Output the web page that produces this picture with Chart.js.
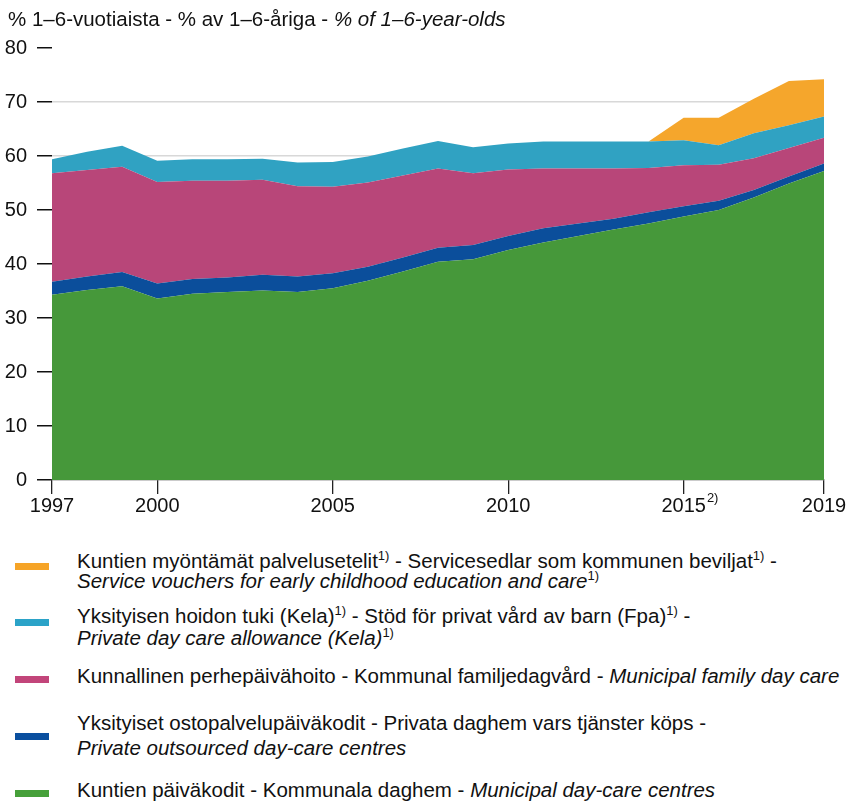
<!DOCTYPE html>
<html>
<head>
<meta charset="utf-8">
<script src="https://cdn.jsdelivr.net/npm/chart.js@4"></script>
<style>
  html, body { margin:0; padding:0; background:#fff; }
  body { width:856px; height:805px; position:relative; overflow:hidden;
         font-family:"Liberation Sans", Arial, Helvetica, sans-serif; color:#111; }
  #wrap { position:absolute; left:0; top:0; width:856px; height:520px; }
  .t { position:absolute; font-size:20.5px; white-space:nowrap; line-height:1; }
  .sw { position:absolute; left:15px; width:34px; height:7px; }
  sup { font-size:13px; vertical-align:0; position:relative; top:-8px; }
  i { font-style:italic; }
</style>
</head>
<body>
<div id="wrap"><canvas id="c" width="856" height="520"></canvas></div>
<div class="t" style="left:8px; top:8.6px;">% 1–6-vuotiaista - % av 1–6-åriga - <i>% of 1–6-year-olds</i></div>

<div class="sw" style="top:563px; background:#f6a427;"></div>
<div class="t" style="left:77px; top:550.6px;">Kuntien myöntämät palvelusetelit<sup>1)</sup> - Servicesedlar som kommunen beviljat<sup>1)</sup> -</div>
<div class="t" style="left:77px; top:570.6px;"><i>Service vouchers for early childhood education and care</i><sup>1)</sup></div>

<div class="sw" style="top:619px; background:#2ba3c8;"></div>
<div class="t" style="left:77px; top:605.6px;">Yksityisen hoidon tuki (Kela)<sup>1)</sup> - Stöd för privat vård av barn (Fpa)<sup>1)</sup> -</div>
<div class="t" style="left:77px; top:627.6px;"><i>Private day care allowance (Kela)</i><sup>1)</sup></div>

<div class="sw" style="top:676px; background:#c2457a;"></div>
<div class="t" style="left:77px; top:665.6px;">Kunnallinen perhepäivähoito - Kommunal familjedagvård - <i>Municipal family day care</i></div>

<div class="sw" style="top:733px; background:#0a4f9f;"></div>
<div class="t" style="left:77px; top:712.6px;">Yksityiset ostopalvelupäiväkodit - Privata daghem vars tjänster köps -</div>
<div class="t" style="left:77px; top:737.6px;"><i>Private outsourced day-care centres</i></div>

<div class="sw" style="top:790px; background:#46a03a;"></div>
<div class="t" style="left:77px; top:779.6px;">Kuntien päiväkodit - Kommunala daghem - <i>Municipal day-care centres</i></div>

<script>
// ---- data (percentage points of 1–6-year-olds, stacked segments) ----
const years = [1997,1998,1999,2000,2001,2002,2003,2004,2005,2006,2007,2008,2009,2010,2011,2012,2013,2014,2015,2016,2017,2018,2019];
const municipalCentres = [34.3,35.2,35.9,33.6,34.5,34.8,35.1,34.8,35.5,36.9,38.6,40.4,40.9,42.6,44.0,45.2,46.4,47.5,48.8,50.0,52.3,54.9,57.2];
const privateOutsourced = [2.4,2.5,2.6,2.8,2.7,2.7,2.9,2.9,2.8,2.6,2.6,2.6,2.6,2.6,2.6,2.3,2.0,2.1,1.9,1.7,1.4,1.3,1.4];
const municipalFamily = [20.1,19.7,19.5,18.8,18.2,17.9,17.6,16.7,16.0,15.6,15.2,14.7,13.3,12.3,11.1,10.2,9.3,8.2,7.6,6.7,5.9,5.3,4.8];
const privateAllowance = [2.6,3.4,3.9,3.9,4.0,4.0,3.9,4.4,4.6,4.8,5.0,5.1,4.8,4.8,5.0,5.0,5.0,4.9,4.6,3.6,4.6,4.2,3.9];
const serviceVouchers = [0,0,0,0,0,0,0,0,0,0,0,0,0,0,0,0,0,0,4.2,5.1,6.4,8.2,6.9];
const xTickValues = [1997,2000,2005,2010,2015,2019];
const xTickNotes = {2015: '2)'};
const yTickValues = [0,10,20,30,40,50,60,70,80];

const FONT = '"Liberation Sans", Arial, Helvetica, sans-serif';
const pts = arr => years.map((y,i)=>({x:y, y:arr[i]}));
const ds = (label, arr, color, fill) => ({
  label, data: pts(arr), backgroundColor: color, borderColor: color,
  borderWidth: 0, pointRadius: 0, fill, tension: 0
});

const notePlugin = {
  id:'note',
  afterDraw(chart){
    const ctx = chart.ctx, xs = chart.scales.x;
    ctx.save();
    for (const k in xTickNotes){
      const v = +k;
      ctx.font = '20px ' + FONT;
      const w = ctx.measureText(String(v)).width;
      const px = xs.getPixelForValue(v);
      ctx.font = '13px ' + FONT;
      ctx.fillStyle = '#111';
      ctx.textAlign = 'left'; ctx.textBaseline = 'alphabetic';
      ctx.fillText(xTickNotes[k], px + w/2 + 1, xs.top + 22);
    }
    ctx.restore();
  }
};

new Chart(document.getElementById('c'), {
  type: 'line',
  data: { datasets: [
    ds('Municipal day-care centres', municipalCentres, '#46983a', 'origin'),
    ds('Private outsourced day-care centres', privateOutsourced, '#0b4e9b', '-1'),
    ds('Municipal family day care', municipalFamily, '#b84679', '-1'),
    ds('Private day care allowance (Kela)', privateAllowance, '#30a2c2', '-1'),
    ds('Service vouchers', serviceVouchers, '#f5a62c', '-1')
  ]},
  options: {
    responsive:false, animation:false, devicePixelRatio:1,
    layout:{ padding:{ left:5, right:32, top:48, bottom:2 } },
    plugins:{ legend:{display:false}, tooltip:{enabled:false}, filler:{propagate:false} },
    scales:{
      x:{
        type:'linear', min:1997, max:2019,
        afterBuildTicks: s => { s.ticks = xTickValues.map(v=>({value:v})); },
        ticks:{ font:{family:FONT, size:20}, color:'#111', padding:0, maxRotation:0, autoSkip:false,
                callback: v => String(v) },
        grid:{ drawOnChartArea:false, tickLength:14, color:'#222', lineWidth:1.3 },
        border:{ display:true, color:'#333', width:1.3 }
      },
      y:{
        stacked:true, min:0, max:80,
        afterBuildTicks: s => { s.ticks = yTickValues.map(v=>({value:v})); },
        afterFit: s => { s.width = 47; },
        ticks:{ font:{family:FONT, size:20}, color:'#111', padding:10 },
        grid:{ tickLength:15, tickColor:'#111', tickWidth:1.5,
               color: c => (c.tick && (c.tick.value===80 || c.tick.value===0)) ? 'rgba(0,0,0,0)' : '#d8d8d8',
               lineWidth:1.5 },
        border:{ display:false }
      }
    }
  },
  plugins:[notePlugin]
});
</script>
</body>
</html>
